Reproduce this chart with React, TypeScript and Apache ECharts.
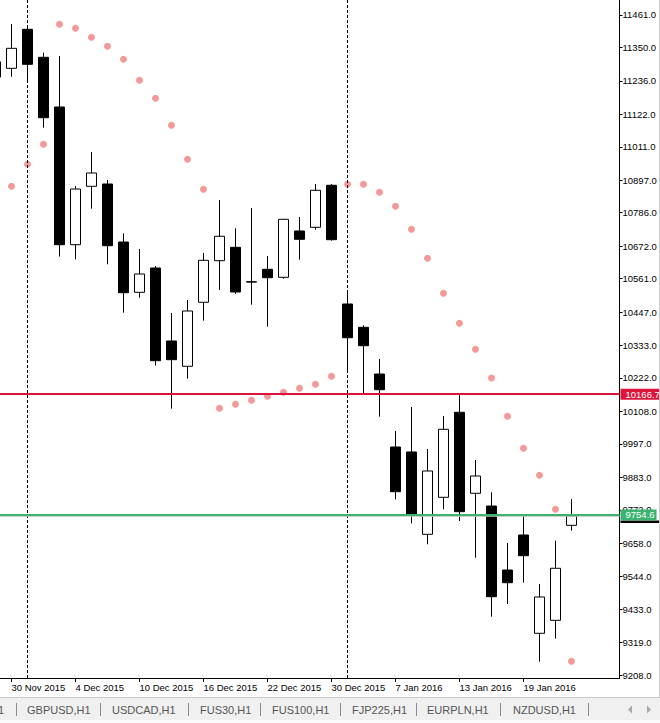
import React, { useEffect, useRef } from "react";
import * as echarts from "echarts";

const FONT = "'Liberation Sans', Arial, sans-serif";

const dates = [
  "27 Nov 2015", "30 Nov 2015", "1 Dec 2015", "2 Dec 2015", "3 Dec 2015", "4 Dec 2015",
  "7 Dec 2015", "8 Dec 2015", "9 Dec 2015", "10 Dec 2015", "11 Dec 2015", "14 Dec 2015",
  "15 Dec 2015", "16 Dec 2015", "17 Dec 2015", "18 Dec 2015", "21 Dec 2015", "22 Dec 2015",
  "23 Dec 2015", "24 Dec 2015", "29 Dec 2015", "30 Dec 2015", "4 Jan 2016", "5 Jan 2016",
  "6 Jan 2016", "7 Jan 2016", "8 Jan 2016", "11 Jan 2016", "12 Jan 2016", "13 Jan 2016",
  "14 Jan 2016", "15 Jan 2016", "18 Jan 2016", "19 Jan 2016", "20 Jan 2016", "21 Jan 2016",
  "22 Jan 2016",
];

const opens = [
  11249, 11279.0, 11412.2, 11316.6, 11146.9, 10676.9, 10876.2, 10884.1, 10686.1, 10514.4,
  10597.4, 10348.2, 10261.8, 10480.3, 10622.3, 10668.0, 10550.5, 10592.9, 10565.6, 10723.7,
  10736.3, 10879.7, 10474.5, 10394.9, 10235.5, 9986.3, 9969.3, 9688.3, 9814.6, 10104.8,
  9828.3, 9784.9, 9566.4, 9685.9, 9350.4, 9394.7, 9719.0,
];
const closes = [
  11301, 11347.3, 11292.7, 11110.4, 10676.9, 10867.0, 10921.6, 10673.5, 10513.0, 10576.9,
  10280.9, 10284.3, 10450.6, 10623.6, 10705.6, 10515.4, 10549.2, 10564.2, 10763.6, 10695.3,
  10862.6, 10694.0, 10359.4, 10332.1, 10181.9, 9833.7, 9756.6, 9904.4, 10046.7, 9765.5,
  9887.3, 9475.3, 9523.1, 9615.3, 9474.3, 9572.3, 9751.0,
];
const lows = [
  11230, 11250.4, 11229.9, 11076.3, 10636.2, 10627.1, 10799.8, 10610.0, 10444.8, 10496.0,
  10263.9, 10117.1, 10219.5, 10417.5, 10522.3, 10508.6, 10472.1, 10397.0, 10560.8, 10625.7,
  10728.1, 10690.5, 10246.8, 10168.3, 10089.8, 9807.8, 9725.9, 9654.2, 9773.7, 9733.7,
  9608.4, 9407.0, 9450.4, 9523.1, 9253.4, 9332.0, 9700.6,
];
const highs = [
  11320, 11430.3, 11423.4, 11332.3, 11321.0, 10877.3, 10993.3, 10897.8, 10715.8, 10662.2,
  10604.2, 10443.7, 10488.1, 10648.6, 10829.5, 10732.9, 10802.2, 10638.3, 10765.0, 10771.5,
  10884.1, 10884.1, 10522.3, 10401.8, 10286.7, 10040.9, 10122.9, 9979.5, 10092.1, 10166.7,
  9941.9, 9831.7, 9658.6, 9757.6, 9518.7, 9666.5, 9808.8,
];
const sar = [
  null, 10876.3, 10951.4, 11019.6, 11429.2, 11415.6, 11384.9, 11354.2, 11309.8, 11238.1,
  11176.6, 11084.5, 10968.4, 10866.0, 10118.4, 10132.1, 10145.7, 10159.4, 10173.0, 10186.7,
  10200.4, 10227.7, 10883.1, 10883.1, 10855.8, 10808.0, 10729.5, 10630.5, 10511.0, 10408.6,
  10319.8, 10221.9, 10091.1, 9981.9, 9889.7, 9773.7, 9254.8,
];

const yTicks = [
  9208, 9319, 9433, 9544, 9658, 9772, 9883, 9997, 10108, 10222, 10333, 10447, 10561,
  10672, 10786, 10897, 11011, 11122, 11236, 11350, 11461,
];
const xLabelIdx = [1, 5, 9, 13, 17, 21, 25, 29, 33];
const separatorIdx = [2, 22];
const resistance = 10166.7;
const bidPrice = 9754.6;
const askLine = 9750.5;

const tabs = ["GBPUSD,H1", "USDCAD,H1", "FUS30,H1", "FUS100,H1", "FJP225,H1", "EURPLN,H1", "NZDUSD,H1"];

export default function App() {
  const ref = useRef<HTMLDivElement>(null);
  useEffect(() => {
    document.body.style.margin = "0";
    const chart = echarts.init(ref.current as HTMLDivElement, null, { renderer: "svg" });
    const candles = dates.map((_, i) => [i, opens[i], closes[i], lows[i], highs[i]]);
    const sarData = sar.map((v, i) => (v == null ? null : [i, v])).filter((d) => d !== null);

    const tabX = [27, 112, 200, 272, 352, 427, 513];
    const sepX = [16.5, 100.5, 188.5, 260.5, 340.5, 416.5, 500.5, 588.5];
    const graphic: any[] = [
      { type: "rect", shape: { x: 0, y: 697, width: 660, height: 1 }, style: { fill: "#C8C8C8" }, z: 10 },
      { type: "rect", shape: { x: 0, y: 698, width: 660, height: 22 }, style: { fill: "#F0F0F0" }, z: 10 },
      { type: "rect", shape: { x: 0, y: 720, width: 660, height: 3 }, style: { fill: "#FAFAFA" }, z: 10 },
      { type: "line", shape: { x1: 659.5, y1: 0, x2: 659.5, y2: 697 }, style: { stroke: "#D0D0D0", lineWidth: 1 }, z: 10 },
      {
        type: "text", x: 4, y: 709.5, z: 11,
        style: { text: "H1", fill: "#555", fontSize: 11, fontFamily: FONT, align: "right", verticalAlign: "middle" },
      },
      ...tabs.map((t, i) => ({
        type: "text", x: tabX[i], y: 709.5, z: 11,
        style: { text: t, fill: "#555", fontSize: 11, fontFamily: FONT, align: "left", verticalAlign: "middle" },
      })),
      ...sepX.map((x) => ({
        type: "line", z: 11, shape: { x1: x, y1: 703, x2: x, y2: 716 }, style: { stroke: "#8A8A8A", lineWidth: 1 },
      })),
      { type: "polygon", z: 11, shape: { points: [[628, 709.5], [632, 705.5], [632, 713.5]] }, style: { fill: "#A8A8A8" } },
      { type: "polygon", z: 11, shape: { points: [[651, 709.5], [647, 705.5], [647, 713.5]] }, style: { fill: "#A8A8A8" } },
    ];

    const priceLabel = (text: string, bg: string) => ({
      show: true,
      position: "end",
      distance: 1,
      formatter: text,
      color: "#fff",
      backgroundColor: bg,
      fontSize: 9.5,
      fontFamily: FONT,
      lineHeight: 11,
      padding: [0, 2, 0, 5],
    });

    chart.setOption({
      animation: false,
      backgroundColor: "#ffffff",
      textStyle: { fontFamily: FONT },
      grid: { left: 0, top: 0, right: 40.5, bottom: 45, containLabel: false },
      xAxis: {
        type: "value",
        min: 0.28125,
        max: 39,
        splitLine: { show: false },
        axisLine: { show: true, onZero: false, lineStyle: { color: "#000", width: 1 } },
        axisTick: { show: true, customValues: xLabelIdx, length: 4, lineStyle: { color: "#000" } },
        axisLabel: {
          customValues: xLabelIdx,
          formatter: (v: number) => dates[Math.round(v)],
          align: "left",
          margin: 4,
          color: "#000",
          fontSize: 9.5,
          fontFamily: FONT,
        },
      },
      yAxis: {
        type: "value",
        position: "right",
        min: 9197.76,
        max: 11512.2,
        splitLine: { show: false },
        axisLine: { show: true, onZero: false, lineStyle: { color: "#000", width: 1 } },
        axisTick: { show: true, customValues: yTicks, length: 3, lineStyle: { color: "#000" } },
        axisLabel: {
          customValues: yTicks,
          formatter: (v: number) => v.toFixed(1),
          margin: 3,
          color: "#000",
          fontSize: 9.5,
          fontFamily: FONT,
        },
      },
      graphic,
      series: [
        {
          type: "candlestick",
          data: candles,
          barWidth: 10,
          clip: true,
          itemStyle: {
            color: "#ffffff",
            color0: "#000000",
            borderColor: "#000000",
            borderColor0: "#000000",
            borderWidth: 1,
          },
        },
        {
          type: "scatter",
          data: sarData,
          symbol: "circle",
          symbolSize: 7,
          itemStyle: { color: "#F08080" },
          z: 3,
        },
        {
          type: "line",
          data: [],
          clip: false,
          z: 4,
          markLine: {
            silent: true,
            symbol: ["none", "none"],
            animation: false,
            data: [
              ...separatorIdx.map((i) => ({
                xAxis: i,
                lineStyle: { color: "#000", width: 1, type: [3, 2] },
                label: { show: false },
              })),
              {
                yAxis: askLine,
                lineStyle: { color: "#C0C0C0", width: 1.5, type: "solid" },
                label: { show: false },
              },
              {
                yAxis: bidPrice,
                lineStyle: { color: "#3CB371", width: 2, type: "solid" },
                label: priceLabel(bidPrice.toFixed(1), "#3CB371"),
              },
              {
                yAxis: resistance,
                lineStyle: { color: "#DC143C", width: 2, type: "solid" },
                label: priceLabel(resistance.toFixed(1), "#DC143C"),
              },
            ],
          },
        },
      ],
    });

    // small black marker of the ask line, peeking below the bid label
    const askY = chart.convertToPixel({ yAxisIndex: 0 }, askLine) as number;
    const bidY = chart.convertToPixel({ yAxisIndex: 0 }, bidPrice) as number;
    const axisX = chart.convertToPixel({ xAxisIndex: 0 }, 39) as number;
    chart.setOption({
      graphic: [
        ...graphic,
        {
          type: "rect",
          z: 1,
          shape: { x: axisX + 1, y: Math.max(askY, bidY + 5.5), width: 660 - axisX - 1, height: 2.5 },
          style: { fill: "#000" },
        },
      ],
    });

    return () => chart.dispose();
  }, []);
  return <div ref={ref} style={{ width: 660, height: 723, position: "absolute", left: 0, top: 0 }} />;
}
